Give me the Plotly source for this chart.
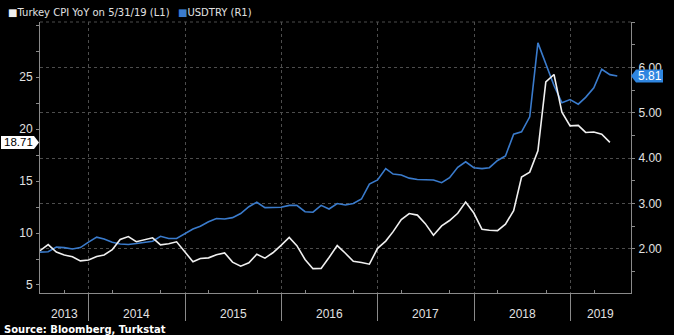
import pandas as pd
import plotly.graph_objects as go

# Turkey CPI YoY (%), month-end, Jun 2013 - May 2019
cpi_dates = pd.date_range("2013-06-30", "2019-05-31", freq="ME")
cpi_yoy = [
    8.30, 8.88, 8.17, 7.88, 7.71, 7.32, 7.40,
    7.75, 7.89, 8.39, 9.38, 9.66, 9.16, 9.32, 9.54, 8.86, 8.96, 9.15, 8.17,
    7.24, 7.55, 7.61, 7.91, 8.09, 7.20, 6.81, 7.14, 7.95, 7.58, 8.10, 8.81,
    9.58, 8.78, 7.46, 6.57, 6.58, 7.64, 8.79, 8.05, 7.28, 7.16, 7.00, 8.53,
    9.22, 10.13, 11.29, 11.87, 11.72, 10.90, 9.79, 10.68, 11.20, 11.90, 12.98, 11.92,
    10.35, 10.26, 10.23, 10.85, 12.15, 15.39, 15.85, 17.90, 24.52, 25.24, 21.62, 20.30,
    20.35, 19.67, 19.71, 19.50, 18.71,
]

# USDTRY, month-end, Jun 2013 - May 2019, plus latest close
fx_dates = list(pd.date_range("2013-06-30", "2019-05-31", freq="ME")) + [pd.Timestamp("2019-06-28")]
usdtry = [
    1.93, 1.94, 2.04, 2.03, 2.00, 2.03, 2.15,
    2.26, 2.22, 2.15, 2.11, 2.10, 2.12, 2.15, 2.17, 2.28, 2.23, 2.23, 2.34,
    2.44, 2.50, 2.60, 2.67, 2.66, 2.69, 2.78, 2.93, 3.03, 2.91, 2.91, 2.92,
    2.96, 2.96, 2.82, 2.81, 2.96, 2.88, 3.00, 2.97, 3.00, 3.10, 3.43, 3.52,
    3.77, 3.65, 3.63, 3.56, 3.53, 3.52, 3.52, 3.46, 3.57, 3.80, 3.92, 3.79,
    3.77, 3.79, 3.95, 4.05, 4.53, 4.58, 4.91, 6.54, 6.06, 5.60, 5.22, 5.29,
    5.19, 5.34, 5.55, 5.96, 5.84, 5.81,
]

year_labels = ["2013", "2014", "2015", "2016", "2017", "2018", "2019"]
cpi_ticks = [5, 10, 15, 20, 25]
fx_ticks = [2.0, 3.0, 4.0, 5.0, 6.0]

X_START, X_END = pd.Timestamp("2013-06-30"), pd.Timestamp("2019-08-19")
CPI_COLOR = "#f0f0f0"
FX_COLOR = "#3a7bcc"
AXIS_GREY = "#8a8a8a"
GRID_GREY = "#4d4d4d"
TEXT = "#e2e2e2"
TICK_FONT = dict(family="Liberation Sans, Arial, sans-serif", size=12, color=TEXT)

fig = go.Figure()
# USDTRY on the base (right) axis, CPI on the overlaying (left) axis so it draws on top
fig.add_trace(go.Scatter(x=fx_dates, y=usdtry, mode="lines", yaxis="y",
                         line=dict(color=FX_COLOR, width=1.6), name="USDTRY (R1)"))
fig.add_trace(go.Scatter(x=cpi_dates, y=cpi_yoy, mode="lines", yaxis="y2",
                         line=dict(color=CPI_COLOR, width=1.6), name="Turkey CPI YoY (L1)"))

year_starts = [pd.Timestamp(f"{y}-01-01") for y in year_labels[1:]]

fig.update_layout(
    width=674, height=335,
    margin=dict(l=40, r=35, t=22, b=42),
    paper_bgcolor="black", plot_bgcolor="black",
    showlegend=False,
    xaxis=dict(
        type="date", range=[X_START, X_END],
        tickmode="array", tickvals=year_starts, showticklabels=False,
        ticks="outside", ticklen=27, tickcolor=AXIS_GREY, tickwidth=1,
        showgrid=True, gridcolor=GRID_GREY, griddash="dot", gridwidth=1,
        showline=True, linecolor=AXIS_GREY, linewidth=1,
        zeroline=False,
        minor=dict(tick0="2013-04-01", dtick="M6", ticks="inside", ticklen=3,
                   tickcolor=AXIS_GREY, showgrid=False),
    ),
    yaxis=dict(
        side="right", range=[1.03, 7.0],
        tickmode="array", tickvals=fx_ticks, tickformat=".2f",
        ticks="outside", ticklen=3, tickcolor=AXIS_GREY,
        showgrid=True, gridcolor=GRID_GREY, griddash="dot",
        showline=True, linecolor=AXIS_GREY, zeroline=False,
        tickfont=TICK_FONT, ticklabelstandoff=1,
        minor=dict(dtick=0.5, tick0=0, ticks="outside", ticklen=3, tickcolor=AXIS_GREY, showgrid=False),
    ),
    yaxis2=dict(
        side="left", overlaying="y", range=[4.23, 30.29],
        tickmode="array", tickvals=cpi_ticks,
        ticks="outside", ticklen=3, tickcolor=AXIS_GREY,
        showgrid=False, showline=True, linecolor=AXIS_GREY, zeroline=False,
        tickfont=TICK_FONT, ticklabelstandoff=1,
        minor=dict(dtick=2.5, tick0=0, ticks="outside", ticklen=3, tickcolor=AXIS_GREY, showgrid=False),
    ),
)

# Dotted top border of the plotting area
fig.add_shape(type="line", xref="paper", yref="paper", x0=0, x1=1, y0=1, y1=1,
              line=dict(color=GRID_GREY, width=1, dash="dot"), layer="below")

# Year labels centred on the visible part of each calendar year
bounds = [X_START] + year_starts + [X_END]
for label, a, b in zip(year_labels, bounds[:-1], bounds[1:]):
    fig.add_annotation(x=a + (b - a) / 2, xref="x", y=0, yref="paper",
                       yanchor="middle", yshift=-21, text=label, showarrow=False,
                       font=TICK_FONT)

# Last-value tags on each axis
last_cpi = cpi_yoy[-1]
last_fx = usdtry[-1]
fig.add_shape(type="path", xref="paper", yref="y2", xsizemode="pixel", ysizemode="pixel",
              xanchor=0, yanchor=last_cpi,
              path="M -39,-6.5 L -6,-6.5 L -1,0 L -6,6.5 L -39,6.5 Z",
              fillcolor="white", line=dict(width=0), layer="above")
fig.add_annotation(x=0, xref="paper", y=last_cpi, yref="y2", xanchor="center", xshift=-22,
                   text=f"{last_cpi:.2f}", showarrow=False,
                   font=dict(family="Liberation Sans, Arial, sans-serif", size=11.5, color="black"))
fig.add_shape(type="path", xref="paper", yref="y", xsizemode="pixel", ysizemode="pixel",
              xanchor=1, yanchor=last_fx,
              path="M 0,0 L 5,-6.5 L 32,-6.5 L 32,6.5 L 5,6.5 Z",
              fillcolor="#2f86e0", line=dict(width=0), layer="above")
fig.add_annotation(x=1, xref="paper", y=last_fx, yref="y", xanchor="center", xshift=19,
                   text=f"{last_fx:.2f}", showarrow=False,
                   font=dict(family="Liberation Sans, Arial, sans-serif", size=12, color="white"))

# Legend line
LEG_FONT = dict(family="DejaVu Sans, sans-serif", size=10, color=TEXT)
fig.add_annotation(x=0, xref="paper", y=1, yref="paper", xanchor="left", yanchor="middle",
                   xshift=-34, yshift=10, showarrow=False, font=LEG_FONT,
                   text=f"<span style='color:{CPI_COLOR}'>■</span>Turkey CPI YoY on 5/31/19 (L1)")
fig.add_annotation(x=0, xref="paper", y=1, yref="paper", xanchor="left", yanchor="middle",
                   xshift=136, yshift=10, showarrow=False, font=LEG_FONT,
                   text=f"<span style='color:{FX_COLOR}'>■</span>USDTRY (R1)")

# Source line
fig.add_annotation(x=0, xref="paper", y=0, yref="paper", xanchor="left", yanchor="middle",
                   xshift=-38, yshift=-36, showarrow=False,
                   font=dict(family="DejaVu Sans, sans-serif", size=10, color="white"),
                   text="<b>Source: Bloomberg, Turkstat</b>")

fig.write_html("out.html")
